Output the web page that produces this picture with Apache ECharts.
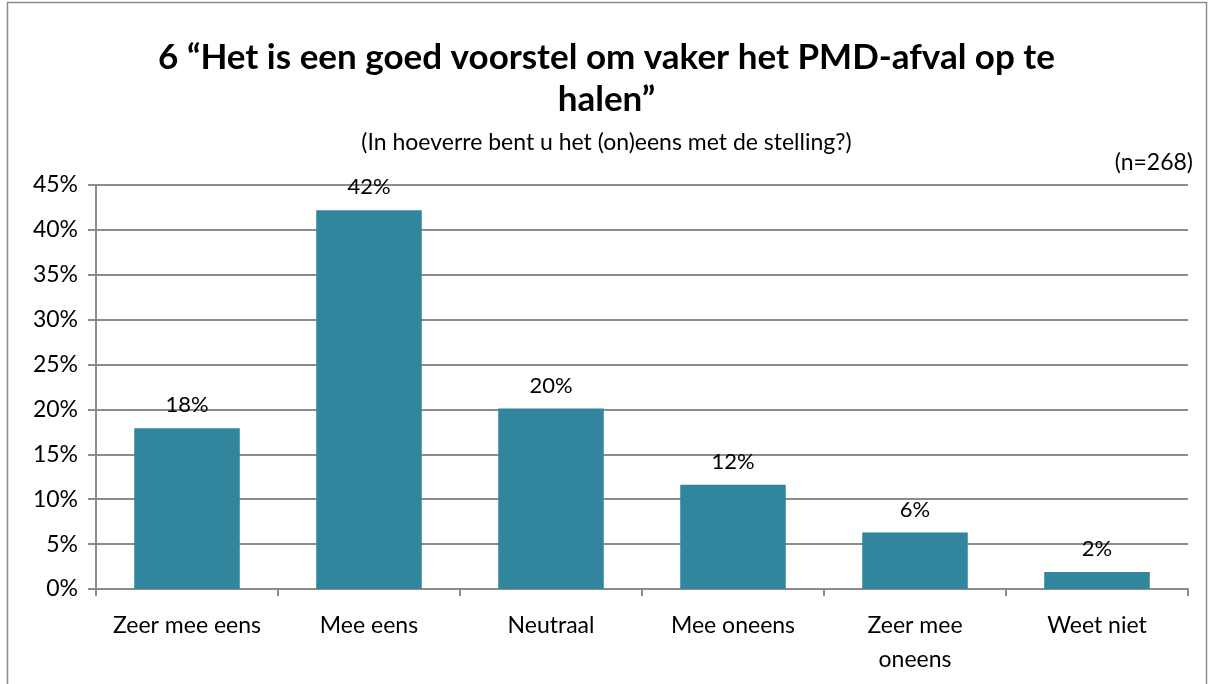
<!DOCTYPE html>
<html>
<head>
<meta charset="utf-8">
<script src="https://cdn.jsdelivr.net/npm/echarts@6/dist/echarts.min.js"></script>
<style>
  html, body { margin: 0; padding: 0; background: #fff; }
  #grafica { width: 1213px; height: 684px; }
</style>
</head>
<body>
<div id="grafica"></div>
<script>
// categorieen en percentages
var categorieen = ['Zeer mee eens', 'Mee eens', 'Neutraal', 'Mee oneens', 'Zeer mee\noneens', 'Weet niet'];
var percentages = [17.9, 42.2, 20.1, 11.6, 6.3, 1.9];
var yTicks = [0, 5, 10, 15, 20, 25, 30, 35, 40, 45];

var lettertype = 'Lato, "Noto Sans", sans-serif';
var grafico = echarts.init(document.getElementById('grafica'));

var option = {
    animation: false,
    title: [
        {
            text: '6 “Het is een goed voorstel om vaker het PMD-afval op te\nhalen”',
            left: 'center',
            top: 32,
            textStyle: {
                fontFamily: lettertype,
                fontWeight: 'bold',
                fontSize: 35,
                lineHeight: 42,
                color: '#000'
            }
        },
        {
            text: '(In hoeverre bent u het (on)eens met de stelling?)',
            left: 'center',
            top: 126,
            textStyle: {fontFamily: lettertype, fontWeight: 'normal', fontSize: 23, color: '#000'}
        },
        {
            text: '(n=268)',
            right: 15,
            top: 146,
            textStyle: {fontFamily: lettertype, fontWeight: 'normal', fontSize: 23, color: '#000'}
        }
    ],
    graphic: [{
        type: 'rect',
        shape: {x: 7.5, y: 2.5, width: 1199, height: 690},
        style: {fill: 'none', stroke: '#8c8c8c', lineWidth: 1.5},
        silent: true
    }],
    grid: {left: 96, right: 25, top: 185, bottom: 95},
    xAxis: {
        type: 'category',
        data: categorieen,
        axisLine: {lineStyle: {color: '#8c8c8c', width: 2}},
        axisTick: {show: true, length: 7, lineStyle: {color: '#8c8c8c', width: 2}},
        axisLabel: {
            fontFamily: lettertype, fontSize: 23, color: '#000',
            margin: 20, lineHeight: 34, interval: 0
        }
    },
    yAxis: {
        type: 'value',
        min: yTicks[0],
        max: yTicks[yTicks.length - 1],
        interval: 5,
        axisLine: {show: true, lineStyle: {color: '#8c8c8c', width: 2}},
        axisTick: {show: true, length: 8, lineStyle: {color: '#8c8c8c', width: 2}},
        splitLine: {lineStyle: {color: '#8c8c8c', width: 2}},
        axisLabel: {
            fontFamily: lettertype, fontSize: 23, color: '#000', margin: 18,
            formatter: function (v) { return v + '%'; }
        }
    },
    series: [{
        type: 'bar',
        data: percentages,
        barWidth: '58%',
        itemStyle: {color: '#31859c'},
        label: {
            show: true,
            position: 'top',
            distance: 12,
            fontFamily: lettertype,
            fontSize: 22,
            color: '#000',
            formatter: function (p) { return Math.round(p.value) + '%'; }
        }
    }]
};

grafico.setOption(option);
</script>
</body>
</html>
